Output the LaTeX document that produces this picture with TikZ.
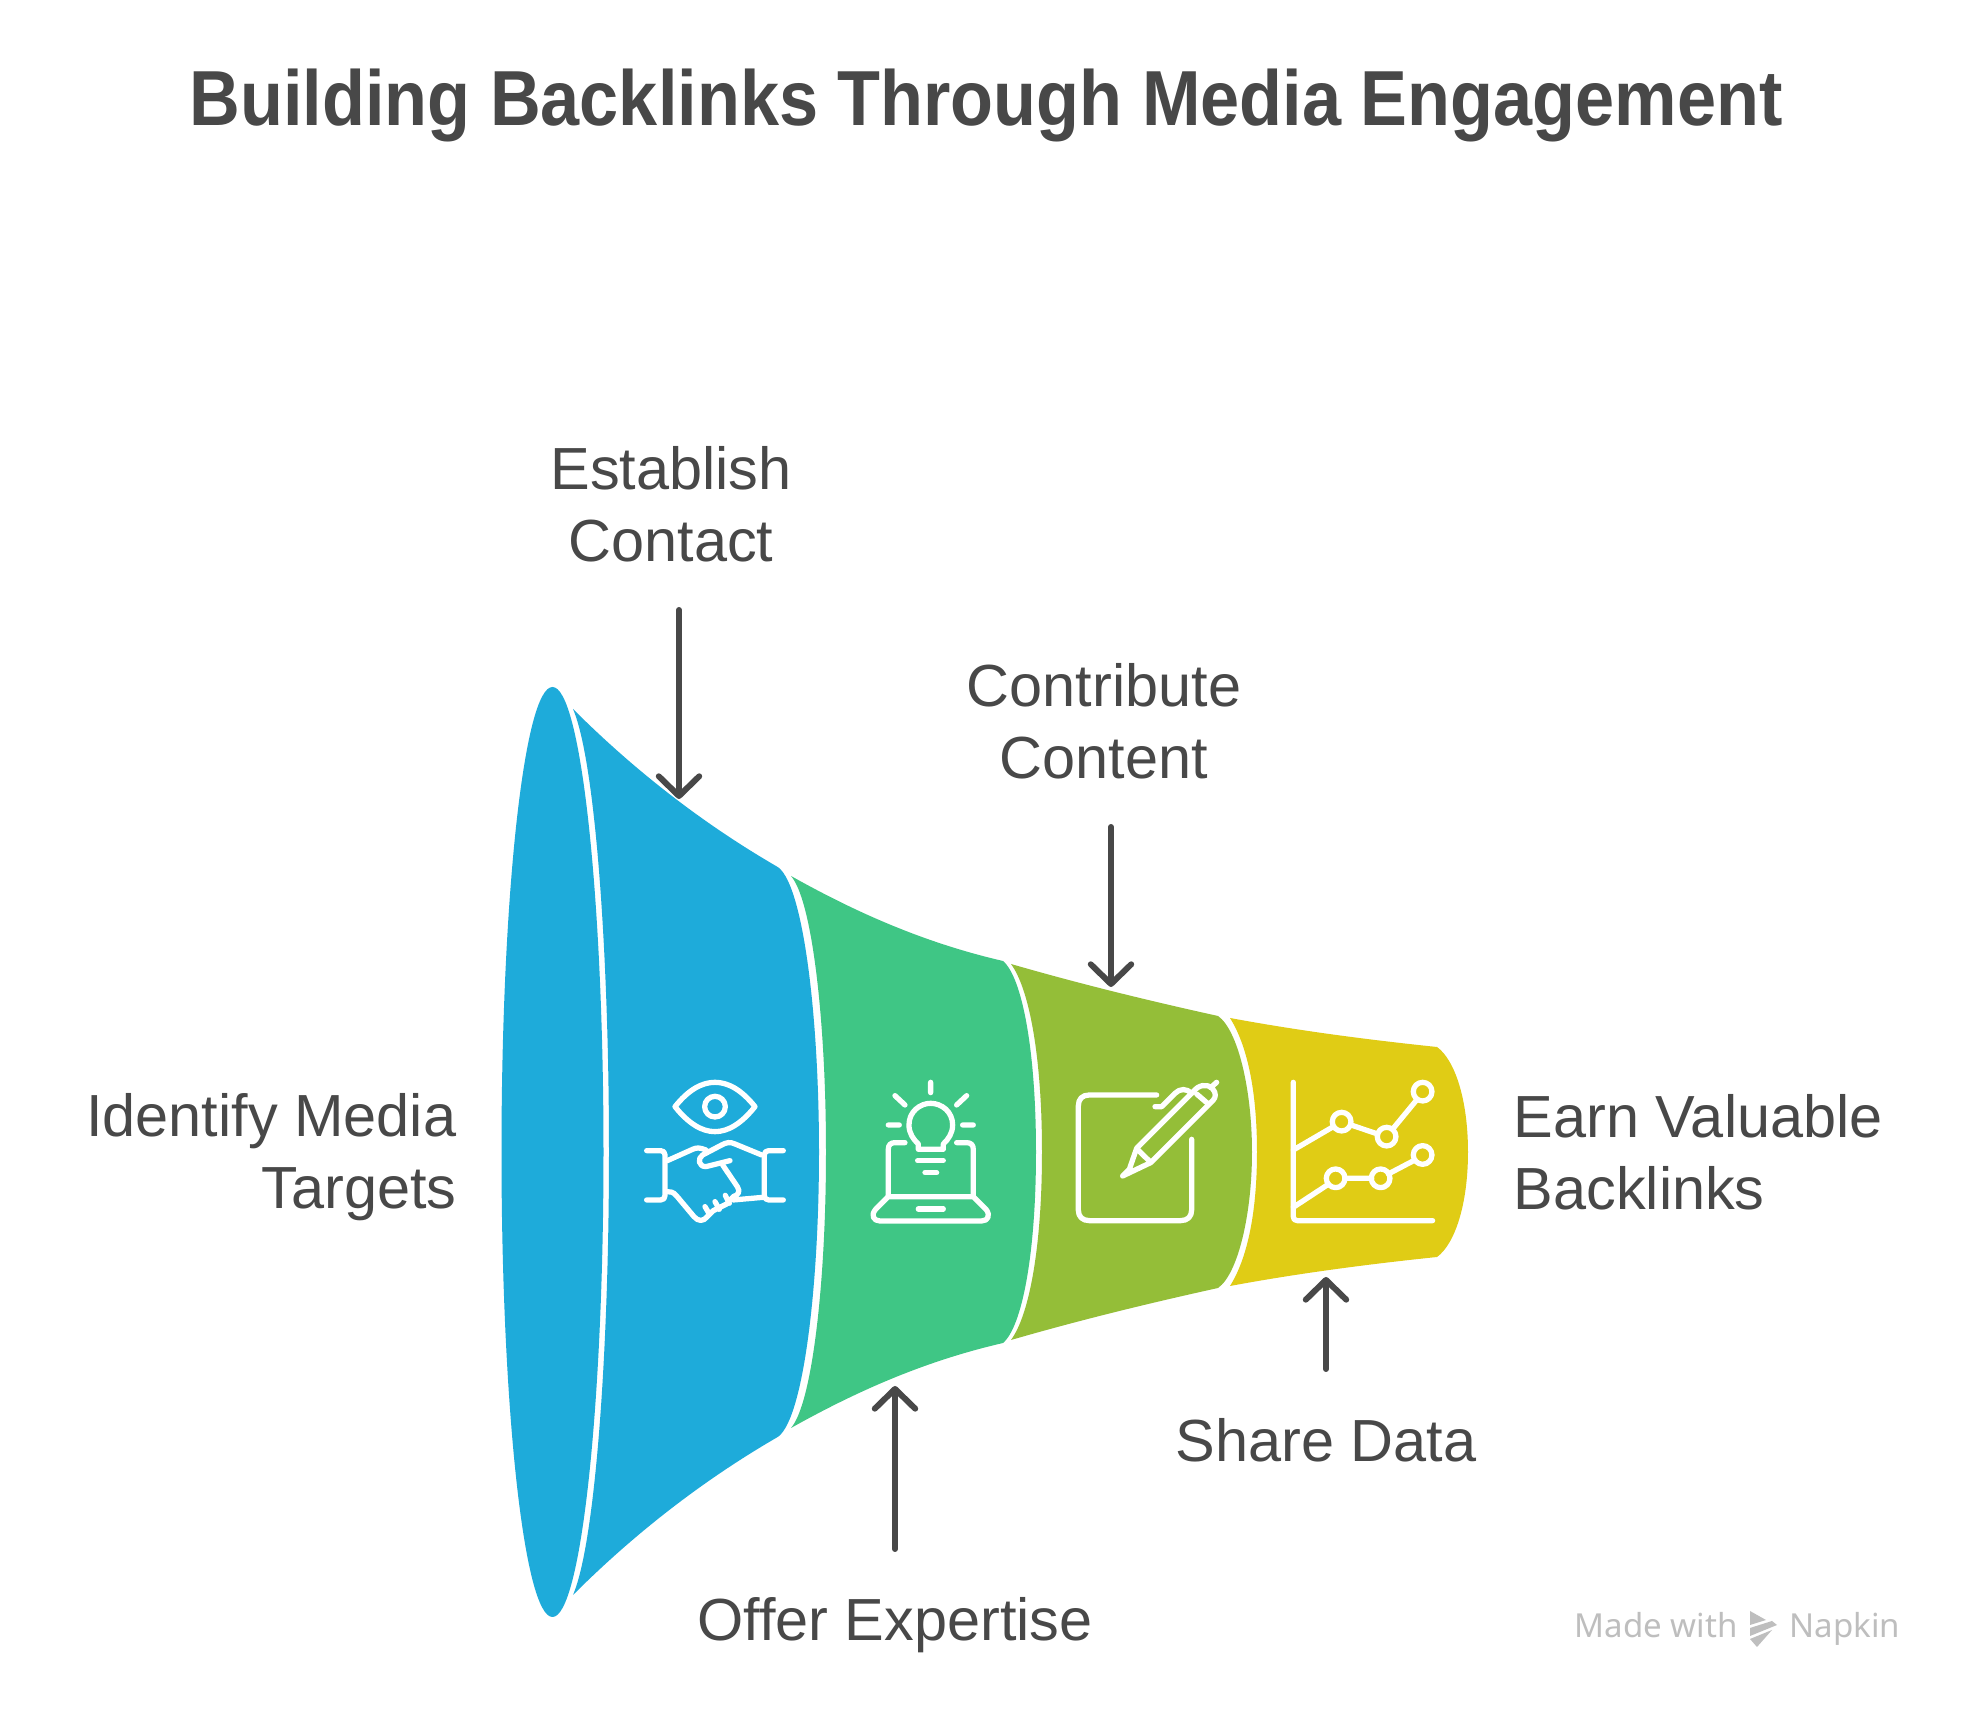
\documentclass[tikz,border=0pt]{standalone}
\usepackage{fontspec}
\setmainfont{Liberation Sans}
\newfontfamily\markfont{Noto Sans}
\usetikzlibrary{arrows.meta}
\definecolor{ink}{HTML}{484848}
\definecolor{mutedmark}{HTML}{BEBEBE}
\definecolor{sky}{HTML}{1EABDA}
\definecolor{mint}{HTML}{3FC685}
\definecolor{olive}{HTML}{94BE38}
\definecolor{mustard}{HTML}{E0CC15}
\tikzset{
  part/.style={fill=#1,draw=none},
  glyph/.style={draw=white,line width=1.5pt,line cap=round,line join=round},
  pointer/.style={draw=ink,line width=1.7pt,line cap=round,-{Straight Barb[round,length=5.6pt,width=11.5pt,line width=1.7pt]}},
  lbl/.style={text=ink,inner sep=0pt,align=#1,font=\fontsize{16.9}{20.5}\selectfont},
  lbl/.default=center,
  wmark/.style={text=mutedmark,inner sep=0pt,anchor=base west,font=\markfont\fontsize{9.4}{12}\selectfont}
}
\begin{document}
\begin{tikzpicture}[x=0.01cm,y=-0.01cm]
    \useasboundingbox (0,0) rectangle (1971,1710);
    \fill[white] (0,0) rectangle (1971,1710);

    % funnel
    \fill[part=sky] (573,709) .. controls (634,770) and (702,823) .. (776,866)
      .. controls (802,878) and (819,1010) .. (819,1152)
      .. controls (819,1294) and (802,1426) .. (776,1438)
      .. controls (702,1481) and (634,1534) .. (573,1595)
      .. controls (595,1544) and (609,1354) .. (609,1152)
      .. controls (609,950) and (595,760) .. (573,709) -- cycle;
    \fill[part=sky] (552.5,1152) ellipse [x radius=51,y radius=465];
    \fill[part=mint] (791,876) .. controls (857,913) and (925,943) .. (1003,961)
      .. controls (1022,977) and (1036,1050) .. (1036,1152)
      .. controls (1036,1254) and (1022,1327) .. (1003,1343)
      .. controls (925,1361) and (857,1391) .. (791,1428)
      .. controls (812,1404) and (826,1284) .. (826,1152)
      .. controls (826,1020) and (812,900) .. (791,876) -- cycle;
    \fill[part=olive] (1011,964) .. controls (1080,984) and (1150,1001) .. (1218,1016)
      .. controls (1238,1030) and (1252,1090) .. (1252,1152)
      .. controls (1252,1214) and (1238,1274) .. (1218,1288)
      .. controls (1150,1303) and (1080,1320) .. (1011,1340)
      .. controls (1030,1314) and (1042,1244) .. (1042,1152)
      .. controls (1042,1060) and (1030,990) .. (1011,964) -- cycle;
    \fill[part=mustard] (1230,1018) .. controls (1300,1031) and (1370,1040) .. (1437,1047)
      .. controls (1455,1060) and (1468,1100) .. (1468,1152)
      .. controls (1468,1204) and (1455,1244) .. (1437,1257)
      .. controls (1370,1264) and (1300,1273) .. (1230,1286)
      .. controls (1247,1259) and (1257,1214) .. (1257,1152)
      .. controls (1257,1090) and (1247,1045) .. (1230,1018) -- cycle;

    % eye and handshake
    \begin{scope}[shift={(620,1050)},scale=0.3333,glyph]
      \draw (165,170) .. controls (205,120) and (245,97) .. (285,97) .. controls (325,97) and (365,120) .. (405,170)
        .. controls (365,220) and (325,245) .. (285,245) .. controls (245,245) and (205,220) .. (165,170) -- cycle;
      \draw (285,170) circle (31);
      \draw (80,302) -- (122,302) .. controls (130,302) and (135,307) .. (135,315) -- (135,437) .. controls (135,445) and (130,450) .. (122,450) -- (80,450);
      \draw (490,302) -- (446,302) .. controls (438,302) and (433,307) .. (433,315) -- (433,437) .. controls (433,445) and (438,450) .. (446,450) -- (490,450);
      \draw (142,332) -- (218,298) .. controls (230,292) and (240,293) .. (258,300);
      \draw (425,315) -- (345,282) .. controls (330,275) and (320,277) .. (305,285) -- (248,315)
        .. controls (232,325) and (235,350) .. (258,350) -- (330,332);
      \draw (308,345) -- (352,410) .. controls (362,425) and (355,435) .. (340,440) -- (320,462) -- (280,482) -- (262,500)
        .. controls (250,515) and (235,515) .. (222,500) -- (170,438) .. controls (160,425) and (150,425) .. (142,425);
      \draw (340,450) -- (430,442);
      \draw (255,470) -- (268,492) (285,455) -- (298,478) (316,436) -- (328,460);
    \end{scope}

    % bulb and laptop
    \begin{scope}[shift={(620,1050)},scale=0.3333,glyph]
      \draw (932,97) -- (932,128) (825,137) -- (855,165) (1040,137) -- (1010,165) (805,225) -- (838,225) (1028,225) -- (1060,225);
      \draw (895,298) -- (895,282) .. controls (880,268) and (867,250) .. (867,225) .. controls (867,185) and (900,160) .. (932,160)
        .. controls (965,160) and (998,185) .. (998,225) .. controls (998,250) and (985,268) .. (970,282) -- (970,298) -- cycle;
      \draw (893,332) -- (970,332) (915,368) -- (950,368);
      \draw (855,278) -- (825,278) .. controls (812,278) and (805,285) .. (805,298) -- (805,438);
      \draw (1010,278) -- (1040,278) .. controls (1053,278) and (1060,285) .. (1060,298) -- (1060,438);
      \draw (805,440) -- (1060,440) -- (1098,478) .. controls (1112,495) and (1105,513) .. (1085,513) -- (780,513)
        .. controls (760,513) and (752,495) .. (767,478) -- cycle;
      \draw (895,477) -- (970,477);
    \end{scope}

    % pad and pen
    \begin{scope}[shift={(1050,1050)},scale=0.3333,glyph]
      \draw (320,135) -- (118,135) .. controls (97,135) and (85,147) .. (85,168) -- (85,480) .. controls (85,500) and (97,512) .. (118,512)
        -- (392,512) .. controls (413,512) and (425,500) .. (425,480) -- (425,268);
      \draw (218,378) -- (238,358) -- (260,295) -- (430,125) .. controls (445,105) and (470,100) .. (487,115)
        .. controls (500,130) and (497,142) .. (490,150) -- (302,338) -- cycle;
      \draw (262,298) -- (300,335) (440,132) -- (475,162) (482,113) -- (500,97);
      \draw (315,170) -- (335,170) -- (375,130) .. controls (390,115) and (410,115) .. (425,130);
    \end{scope}

    % chart
    \begin{scope}[shift={(1050,1050)},scale=0.3333,glyph]
      \draw (730,97) -- (730,500) .. controls (730,508) and (734,512) .. (742,512) -- (1148,512);
      \draw (730,300) -- (850,230) (903,225) -- (983,252) (1030,235) -- (1100,150);
      \draw (730,472) -- (835,403) (885,385) -- (965,385) (1015,372) -- (1095,330);
      \draw (875,215) circle (28) (1010,260) circle (28) (1118,125) circle (28);
      \draw (857,385) circle (28) (992,385) circle (28) (1118,315) circle (28);
    \end{scope}

    % labels
    \node[text=ink,inner sep=0pt,xscale=0.9,font=\fontsize{22.2}{26}\selectfont\bfseries] (heading) at (986,106) {Building Backlinks Through Media Engagement};
    \node[lbl=right,anchor=east] (identify) at (457,1157) {Identify Media\\Targets};
    \node[lbl] (contact) at (671,504) {Establish\\Contact};
    \node[lbl] (expertise) at (895,1625) {Offer Expertise};
    \node[lbl] (content) at (1104,721) {Contribute\\Content};
    \node[lbl] (sharedata) at (1326,1440) {Share Data};
    \node[lbl=left,anchor=west] (backlinks) at (1513,1152) {Earn Valuable\\Backlinks};

    % pointers
    \coordinate (contactstart) at (679,610);
    \coordinate (contacttip) at (679,799);
    \coordinate (contentstart) at (1111,827);
    \coordinate (contenttip) at (1111,987);
    \coordinate (expertisestart) at (895,1549);
    \coordinate (expertisetip) at (895,1386);
    \coordinate (sharestart) at (1326,1369);
    \coordinate (sharetip) at (1326,1277);
    \draw[pointer] (contactstart) -- (contacttip);
    \draw[pointer] (contentstart) -- (contenttip);
    \draw[pointer] (expertisestart) -- (expertisetip);
    \draw[pointer] (sharestart) -- (sharetip);

    % watermark
    \node[wmark] (madewith) at (1574,1638) {Made with};
    \node[wmark] (napkin) at (1789,1638) {Napkin};
    \fill[mutedmark] (1750,1611) -- (1766,1620) -- (1750,1625) -- cycle;
    \fill[mutedmark] (1750,1628) -- (1772,1621) -- (1777,1625) -- (1750,1636) -- cycle;
    \fill[mutedmark] (1750,1639) -- (1772,1630) -- (1757,1647) -- cycle;
\end{tikzpicture}
\end{document}
